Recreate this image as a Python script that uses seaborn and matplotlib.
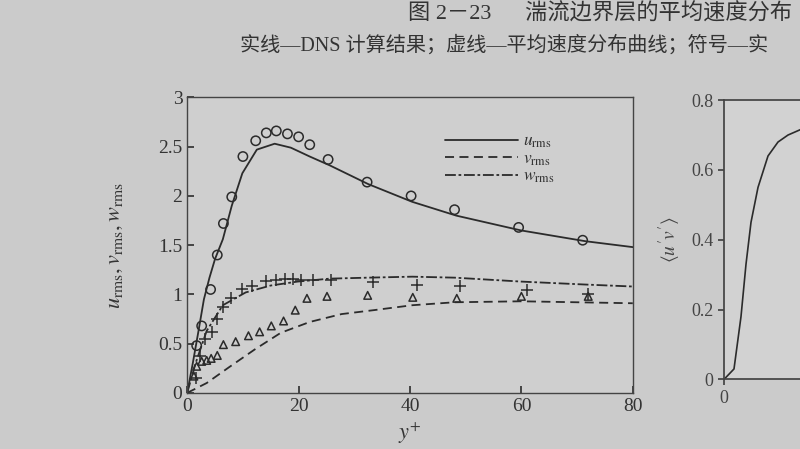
import numpy as np
import pandas as pd
import matplotlib
matplotlib.use('Agg')
import matplotlib.pyplot as plt
import seaborn as sns

# --- values ---
# DNS curves
y_line = [0, 1, 2, 3, 4, 5, 6.4, 8, 9.9, 12.5, 15.7, 18.6, 22, 25.6, 32.5, 40.4, 48.3, 59.9, 71.5, 80]
u_line = [0, 0.3, 0.62, 0.95, 1.17, 1.36, 1.56, 1.9, 2.23, 2.47, 2.53, 2.49, 2.4, 2.31, 2.12, 1.94, 1.8, 1.65, 1.54, 1.48]

y_v = [0, 3.5, 7.5, 12.1, 16.8, 22, 27.7, 33.5, 40.4, 48, 60, 70, 80]
v_line = [0, 0.1, 0.26, 0.44, 0.61, 0.72, 0.8, 0.84, 0.89, 0.92, 0.93, 0.92, 0.91]

y_w = [0, 1.5, 3.5, 6.4, 10.5, 15, 19.8, 25.6, 32.5, 40.4, 48, 60, 71.5, 80]
w_line = [0, 0.3, 0.63, 0.89, 1.02, 1.09, 1.13, 1.16, 1.17, 1.18, 1.17, 1.13, 1.1, 1.08]

# experiment symbols
y_circ = [1.7, 2.6, 4.2, 5.4, 6.5, 8, 10, 12.3, 14.2, 16, 18, 20, 22, 25.3, 32.3, 40.2, 48, 59.5, 71]
u_circ = [0.48, 0.68, 1.05, 1.4, 1.72, 1.99, 2.4, 2.56, 2.64, 2.66, 2.63, 2.6, 2.52, 2.37, 2.14, 2.0, 1.86, 1.68, 1.55]

y_plus = [1.5, 2.3, 3.2, 4.5, 5.4, 6.4, 7.8, 9.8, 11.6, 14.2, 16, 17.5, 19, 20.5, 22.5, 25.8, 33.4, 41.3, 49, 61, 72]
w_plus = [0.15, 0.37, 0.55, 0.62, 0.75, 0.87, 0.96, 1.05, 1.09, 1.14, 1.15, 1.16, 1.16, 1.15, 1.15, 1.15, 1.13, 1.1, 1.09, 1.04, 1.0]

y_tri = [1.2, 1.7, 2.6, 3.5, 4.3, 5.4, 6.5, 8.7, 11, 13, 15.1, 17.3, 19.4, 21.5, 25.1, 32.4, 40.5, 48.4, 60, 72]
v_tri = [0.17, 0.27, 0.32, 0.33, 0.35, 0.38, 0.49, 0.52, 0.58, 0.62, 0.68, 0.73, 0.84, 0.96, 0.98, 0.99, 0.97, 0.96, 0.98, 0.98]

# right panel (only its left edge is visible)
y_uv = [0, 5, 8.5, 11, 13.5, 17, 22, 27, 32, 40]
uv = [0, 0.03, 0.18, 0.33, 0.45, 0.55, 0.64, 0.68, 0.7, 0.72]

xticks = [0, 20, 40, 60, 80]
yticks = [0, 0.5, 1, 1.5, 2, 2.5, 3]
yticks2 = [0, 0.2, 0.4, 0.6, 0.8]

title1 = '图 2－23      湍流边界层的平均速度分布'
title2 = '实线—DNS 计算结果；虚线—平均速度分布曲线；符号—实'

paper = '#cbcbcb'
ink = '#2b2b2b'

sns.set_theme(style='ticks')
plt.rcParams['font.family'] = ['Liberation Serif', 'Noto Sans CJK SC', 'DejaVu Sans']
plt.rcParams['mathtext.fontset'] = 'stix'

fig = plt.figure(figsize=(8, 4.49), dpi=100, facecolor=paper)
ax = fig.add_axes([0.234, 0.125, 0.557, 0.658])
ax.set_facecolor('#cfcfcf')

sns.lineplot(x=y_line, y=u_line, ax=ax, color=ink, lw=1.3, label=r'$u_{\rm rms}$', sort=False)
sns.lineplot(x=y_v, y=v_line, ax=ax, color=ink, lw=1.3, linestyle=(0, (5, 3)), label=r'$v_{\rm rms}$', sort=False)
sns.lineplot(x=y_w, y=w_line, ax=ax, color=ink, lw=1.3, linestyle=(0, (6, 1.5, 1.5, 1.5)), label=r'$w_{\rm rms}$', sort=False)

sns.scatterplot(x=y_circ, y=u_circ, ax=ax, marker='o', s=45, fc='none', ec=ink, linewidth=1.1, zorder=3)
sns.scatterplot(x=y_plus, y=w_plus, ax=ax, marker='+', s=70, color=ink, linewidth=1.1, zorder=3)
sns.scatterplot(x=y_tri, y=v_tri, ax=ax, marker='^', s=30, fc='none', ec=ink, linewidth=1.1, zorder=3)

ax.set_xlim(0, 80)
ax.set_ylim(0, 3)
ax.set_xticks(xticks)
ax.set_yticks(yticks)
ax.set_yticklabels(['0', '0.5', '1', '1.5', '2', '2.5', '3'])
ax.tick_params(direction='in', labelsize=14, length=5, colors='#333333')
for sp in ax.spines.values():
    sp.set_color('#444444')
    sp.set_linewidth(1.0)
ax.set_xlabel(r'$y^{+}$', fontsize=16, color='#333333', labelpad=4)
ax.set_ylabel(r'$u_{\rm rms}, v_{\rm rms}, w_{\rm rms}$', fontsize=16, color='#333333', labelpad=24)

leg = ax.legend(loc='upper right', bbox_to_anchor=(0.86, 0.93), frameon=False,
                handlelength=4.2, fontsize=12.5, labelspacing=0.05, handletextpad=0.3)
for t in leg.get_texts():
    t.set_color('#333333')

# right panel, cut off by the page edge
ax2 = fig.add_axes([0.905, 0.155, 0.25, 0.622])
ax2.set_facecolor('#d2d2d2')
sns.lineplot(x=y_uv, y=uv, ax=ax2, color=ink, lw=1.2, sort=False)
ax2.set_xlim(0, 100)
ax2.set_ylim(0, 0.8)
ax2.set_xticks([0])
ax2.set_yticks(yticks2)
ax2.set_yticklabels(['0', '0.2', '0.4', '0.6', '0.8'])
ax2.tick_params(labelsize=13, length=4, colors='#444444')
for sp in ax2.spines.values():
    sp.set_color('#444444')
ax2.set_ylabel(r"$\langle u'v'\rangle$", fontsize=14, color='#444444', labelpad=6)

fig.text(0.99, 0.968, title1, fontsize=16, color='#333333', ha='right', va='center')
fig.text(0.30, 0.898, title2, fontsize=14.5, color='#333333', ha='left', va='center')

fig.savefig('out.png', dpi=100, facecolor=paper)
